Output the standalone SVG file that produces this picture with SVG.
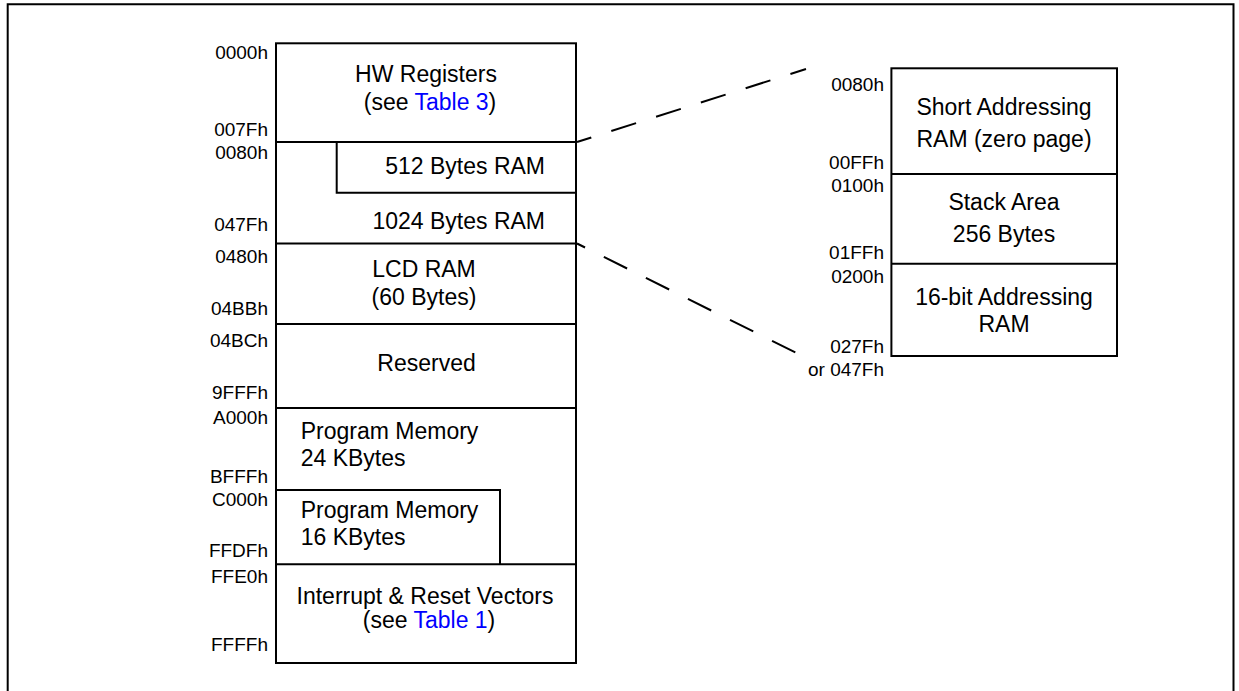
<svg xmlns="http://www.w3.org/2000/svg" width="1239" height="691" viewBox="0 0 1239 691">
<style>
.ln{stroke:#000;stroke-width:2;fill:none}
.t{font-family:"Liberation Sans",Arial,sans-serif;font-size:23px;fill:#000}
.m{text-anchor:middle}
.a{font-family:"Liberation Sans",Arial,sans-serif;font-size:19px;fill:#000;text-anchor:end}
.lk{fill:#0000ff}
.d{stroke:#000;stroke-width:2;fill:none;stroke-dasharray:26 21}
</style>
<rect width="1239" height="691" fill="#fff"/>
<path class="ln" d="M7.7,691 V4.3 H1233.5 V691"/>
<g id="main-column">
<rect class="ln" x="276" y="43.3" width="300" height="619.7"/>
<g id="hw-registers">
<text class="t m" x="426" y="82.3">HW Registers</text>
<text class="t m" x="430" y="110">(see <tspan class="lk">Table 3</tspan>)</text>
<text class="a" x="268" y="59.3">0000h</text>
<text class="a" x="268" y="136">007Fh</text>
</g>
<line class="ln" x1="276" y1="142" x2="576" y2="142"/>
<g id="ram-512">
<path class="ln" d="M336.7,142 V192.7 H576"/>
<text class="t" x="545" y="174" text-anchor="end">512 Bytes RAM</text>
<text class="a" x="268" y="159.3">0080h</text>
</g>
<g id="ram-1024">
<text class="t" x="545" y="229" text-anchor="end">1024 Bytes RAM</text>
<text class="a" x="268" y="231.3">047Fh</text>
</g>
<line class="ln" x1="276" y1="243.5" x2="576" y2="243.5"/>
<g id="lcd-ram">
<text class="t m" x="424" y="277.3">LCD RAM</text>
<text class="t m" x="424" y="305">(60 Bytes)</text>
<text class="a" x="268" y="263.3">0480h</text>
<text class="a" x="268" y="315">04BBh</text>
</g>
<line class="ln" x1="276" y1="324" x2="576" y2="324"/>
<g id="reserved">
<text class="t m" x="426.5" y="371">Reserved</text>
<text class="a" x="268" y="346.7">04BCh</text>
<text class="a" x="268" y="399.3">9FFFh</text>
</g>
<line class="ln" x1="276" y1="408" x2="576" y2="408"/>
<g id="program-24k">
<text class="t" x="300.7" y="439.3">Program Memory</text>
<text class="t" x="300.7" y="465.7">24 KBytes</text>
<text class="a" x="268" y="424">A000h</text>
<text class="a" x="268" y="483.3">BFFFh</text>
</g>
<g id="program-16k">
<path class="ln" d="M276,490 H500 V564.3"/>
<text class="t" x="300.7" y="518.3">Program Memory</text>
<text class="t" x="300.7" y="545">16 KBytes</text>
<text class="a" x="268" y="506">C000h</text>
<text class="a" x="268" y="557.3">FFDFh</text>
</g>
<line class="ln" x1="276" y1="564.3" x2="576" y2="564.3"/>
<g id="vectors">
<text class="t m" x="425" y="604">Interrupt &amp; Reset Vectors</text>
<text class="t m" x="429" y="628.3">(see <tspan class="lk">Table 1</tspan>)</text>
<text class="a" x="268" y="583.3">FFE0h</text>
<text class="a" x="268" y="650.7">FFFFh</text>
</g>
</g>
<g id="connectors">
<line class="d" x1="577" y1="142" x2="806" y2="69" stroke-dashoffset="11"/>
<line class="d" x1="577" y1="243.5" x2="799" y2="354.3" stroke-dashoffset="17"/>
</g>
<g id="ram-detail">
<rect class="ln" x="891.4" y="68.3" width="225.6" height="287.7"/>
<g id="zero-page">
<text class="t m" x="1004" y="115">Short Addressing</text>
<text class="t m" x="1004" y="146.7">RAM (zero page)</text>
<text class="a" x="884" y="90.7">0080h</text>
<text class="a" x="884" y="169.3">00FFh</text>
</g>
<line class="ln" x1="891.4" y1="174" x2="1117" y2="174"/>
<g id="stack">
<text class="t m" x="1004" y="210">Stack Area</text>
<text class="t m" x="1004" y="241.7">256 Bytes</text>
<text class="a" x="884" y="191.7">0100h</text>
<text class="a" x="884" y="259.3">01FFh</text>
</g>
<line class="ln" x1="891.4" y1="263.7" x2="1117" y2="263.7"/>
<g id="ram-16bit">
<text class="t m" x="1004" y="305">16-bit Addressing</text>
<text class="t m" x="1004" y="331.7">RAM</text>
<text class="a" x="884" y="282.7">0200h</text>
<text class="a" x="884" y="352.7">027Fh</text>
<text class="a" x="884" y="375.7">or 047Fh</text>
</g>
</g>
</svg>
